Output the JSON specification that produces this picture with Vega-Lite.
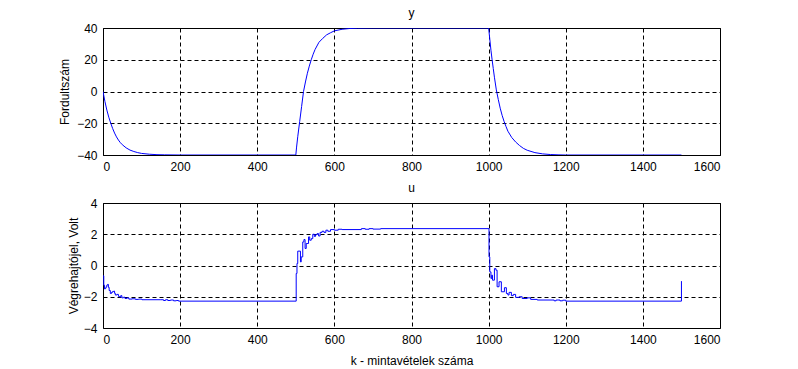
{
  "$schema": "https://vega.github.io/schema/vega-lite/v6.json",
  "background": "white",
  "padding": {"left": 58, "top": 6, "right": 0, "bottom": 0},
  "bounds": "flush",
  "spacing": 48,
  "config": {
    "view": {"stroke": "black", "strokeWidth": 1},
    "font": "Liberation Sans",
    "axis": {
      "domain": false,
      "ticks": false,
      "grid": true,
      "gridColor": "black",
      "gridOpacity": 1,
      "gridDash": [4, 3],
      "gridWidth": 1,
      "labelFont": "Liberation Sans",
      "labelFontSize": 12,
      "labelColor": "black",
      "labelPadding": 6,
      "format": "d",
      "titleFont": "Liberation Sans",
      "titleFontSize": 12,
      "titleFontWeight": "normal",
      "titleColor": "black"
    },
    "title": {"font": "Liberation Sans", "fontSize": 12, "fontWeight": "normal", "color": "black", "offset": 2}
  },
  "vconcat": [
    {
      "width": 617,
      "height": 127,
      "title": {"text": "y"},
      "data": {"values": [
        {"k":0,"y":0},{"k":5,"y":-6.3},{"k":10,"y":-11.7},{"k":15,"y":-16.2},{"k":20,"y":-19.9},{"k":25,"y":-23.3},{"k":30,"y":-26.2},{"k":35,"y":-28.6},{"k":40,"y":-30.6},{"k":45,"y":-32.2},{"k":50,"y":-33.5},{"k":60,"y":-35.5},{"k":70,"y":-36.9},{"k":80,"y":-37.8},{"k":90,"y":-38.5},{"k":100,"y":-39},{"k":120,"y":-39.5},{"k":140,"y":-39.8},{"k":160,"y":-39.9},{"k":200,"y":-40},{"k":500,"y":-40},
        {"k":502,"y":-35},{"k":505,"y":-28.5},{"k":510,"y":-19},{"k":515,"y":-9.5},{"k":520,"y":0},{"k":525,"y":6},{"k":530,"y":11.5},{"k":535,"y":16},{"k":540,"y":20},{"k":545,"y":23.5},{"k":550,"y":26.5},{"k":560,"y":31},{"k":570,"y":33.5},{"k":580,"y":35.7},{"k":590,"y":37},{"k":600,"y":38.2},{"k":620,"y":39.2},{"k":640,"y":39.7},{"k":660,"y":39.9},{"k":700,"y":40},{"k":1000,"y":40},
        {"k":1003,"y":33},{"k":1006,"y":26},{"k":1009,"y":20},{"k":1012,"y":14.5},{"k":1015,"y":9},{"k":1020,"y":1},{"k":1025,"y":-5},{"k":1030,"y":-10.5},{"k":1035,"y":-15},{"k":1040,"y":-18.8},{"k":1045,"y":-22},{"k":1050,"y":-25},{"k":1060,"y":-29},{"k":1070,"y":-31.8},{"k":1080,"y":-34},{"k":1090,"y":-35.8},{"k":1100,"y":-37},{"k":1120,"y":-38.5},{"k":1140,"y":-39.3},{"k":1160,"y":-39.7},{"k":1180,"y":-39.9},{"k":1200,"y":-40},{"k":1500,"y":-40}
      ]},
      "mark": {"type": "line", "color": "#0000ff", "strokeWidth": 1, "clip": true},
      "encoding": {
        "x": {"field": "k", "type": "quantitative", "scale": {"domain": [0, 1600], "nice": false, "zero": false},
              "axis": {"values": [0,200,400,600,800,1000,1200,1400,1600], "title": null}},
        "y": {"field": "y", "type": "quantitative", "scale": {"domain": [-40, 40], "nice": false, "zero": false},
              "axis": {"values": [-40,-20,0,20,40], "title": "Fordultszám", "titlePadding": 5}}
      }
    },
    {
      "width": 617,
      "height": 125,
      "title": {"text": "u"},
      "data": {"values": [
        {"k":0,"u":-0.66},{"k":2,"u":-1.26},{"k":4,"u":-1.5},{"k":6,"u":-1.45},{"k":8,"u":-1.36},{"k":10,"u":-1.25},{"k":12,"u":-1.21},{"k":14,"u":-1.4},{"k":16,"u":-1.6},{"k":19,"u":-1.79},{"k":22,"u":-1.72},{"k":25,"u":-1.66},{"k":28,"u":-1.64},{"k":30,"u":-1.78},{"k":32,"u":-1.89},{"k":36,"u":-1.85},{"k":40,"u":-1.98},{"k":43,"u":-2.02},{"k":46,"u":-1.93},{"k":49,"u":-2.07},{"k":53,"u":-2.03},{"k":57,"u":-2.11},{"k":62,"u":-2.07},{"k":67,"u":-2.15},{"k":75,"u":-2.13},{"k":84,"u":-2.17},{"k":92,"u":-2.15},{"k":101,"u":-2.19},{"k":150,"u":-2.19},{"k":157,"u":-2.24},{"k":162,"u":-2.19},{"k":168,"u":-2.24},{"k":175,"u":-2.21},{"k":183,"u":-2.26},{"k":190,"u":-2.24},{"k":196,"u":-2.28},
        {"k":501,"u":-0.51},{"k":503,"u":0.13},{"k":505,"u":0.92},{"k":512,"u":0.23},{"k":514,"u":0.55},{"k":518,"u":1.51},{"k":521,"u":1.66},{"k":524,"u":1.09},{"k":527,"u":1.41},{"k":533,"u":1.83},{"k":536,"u":1.62},{"k":540,"u":1.72},{"k":544,"u":2.0},{"k":548,"u":1.86},{"k":551,"u":1.97},{"k":555,"u":2.04},{"k":559,"u":1.89},{"k":563,"u":2.12},{"k":568,"u":2.19},{"k":573,"u":2.12},{"k":578,"u":2.26},{"k":583,"u":2.19},{"k":590,"u":2.3},{"k":600,"u":2.26},{"k":610,"u":2.32},{"k":620,"u":2.3},{"k":670,"u":2.36},{"k":680,"u":2.32},{"k":690,"u":2.36},{"k":700,"u":2.33},{"k":720,"u":2.36},
        {"k":1001,"u":0.55},{"k":1003,"u":-0.41},{"k":1006,"u":-0.83},{"k":1008,"u":-0.62},{"k":1010,"u":-0.94},{"k":1015,"u":-0.2},{"k":1019,"u":-0.3},{"k":1022,"u":-1.36},{"k":1027,"u":-1.04},{"k":1033,"u":-1.68},{"k":1041,"u":-1.42},{"k":1046,"u":-1.79},{"k":1050,"u":-1.89},{"k":1053,"u":-1.72},{"k":1059,"u":-1.93},{"k":1064,"u":-1.85},{"k":1070,"u":-2.04},{"k":1079,"u":-2.0},{"k":1087,"u":-2.11},{"k":1100,"u":-2.07},{"k":1109,"u":-2.17},{"k":1126,"u":-2.21},{"k":1170,"u":-2.26},{"k":1175,"u":-2.21},{"k":1185,"u":-2.26},{"k":1192,"u":-2.22},{"k":1200,"u":-2.28},{"k":1500,"u":-1.0}
      ]},
      "mark": {"type": "line", "color": "#0000ff", "strokeWidth": 1, "interpolate": "step-after", "clip": true},
      "encoding": {
        "x": {"field": "k", "type": "quantitative", "scale": {"domain": [0, 1600], "nice": false, "zero": false},
              "axis": {"values": [0,200,400,600,800,1000,1200,1400,1600], "title": "k - mintavételek száma", "titlePadding": 10}},
        "y": {"field": "u", "type": "quantitative", "scale": {"domain": [-4, 4], "nice": false, "zero": false},
              "axis": {"values": [-4,-2,0,2,4], "title": "Végrehajtójel, Volt", "titlePadding": 3}}
      }
    }
  ]
}
